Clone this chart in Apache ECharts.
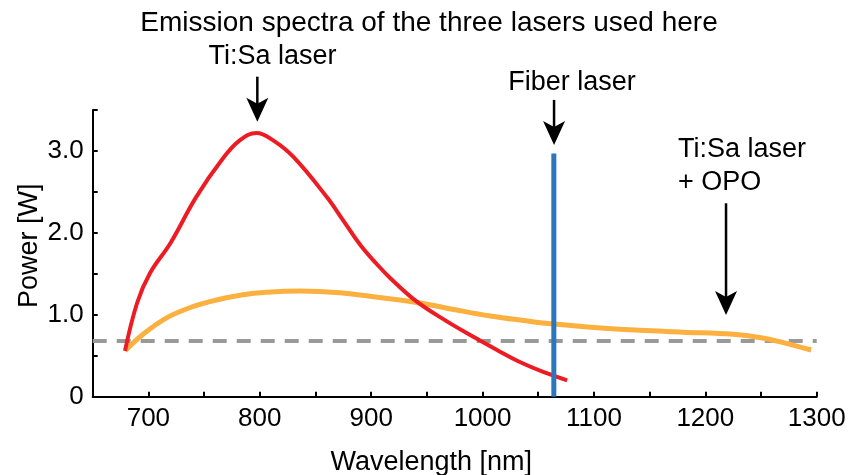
<!DOCTYPE html>
<html><head><meta charset="utf-8">
<script src="https://cdn.jsdelivr.net/npm/echarts@6/dist/echarts.min.js"></script>
<style>html,body{margin:0;padding:0;background:#fff}#c{width:851px;height:475px}</style>
</head><body><div id="c"></div>
<script>
// ---- data ----
const titleText = 'Emission spectra of the three lasers used here';
const xName = 'Wavelength [nm]';
const yName = 'Power [W]';
const xMin = 650, xMax = 1300, xStep = 50;
const yMin = 0, yMax = 3.5, yStep = 0.5;
const yTickLabels = {0: '0', 1: '1.0', 2: '2.0', 3: '3.0'};

const tisaWavelength = [679, 690, 701.5, 720, 743, 767, 782, 797, 812, 830, 860, 875, 891, 905, 917, 941, 968, 992, 1013, 1034, 1055, 1076];
const tisaPower      = [0.56, 1.15, 1.51, 1.88, 2.44, 2.91, 3.13, 3.22, 3.13, 2.93, 2.44, 2.15, 1.84, 1.62, 1.45, 1.16, 0.92, 0.73, 0.57, 0.42, 0.30, 0.20];

const opoWavelength = [679, 695, 716, 740, 761, 785, 806, 836, 872, 902, 941, 974, 1007, 1037, 1064, 1103, 1141, 1180, 1225, 1250, 1270, 1295];
const opoPower      = [0.56, 0.76, 0.96, 1.10, 1.18, 1.245, 1.275, 1.29, 1.27, 1.22, 1.15, 1.065, 0.985, 0.93, 0.887, 0.843, 0.81, 0.788, 0.762, 0.72, 0.66, 0.57];

const fiberWavelength = 1064;
const fiberPower = 2.97;

const thresholdPower = 0.68;

// annotations: label, label anchor (data coords), arrow x, arrow top y, arrow tip y
const annotations = [
  {text: 'Ti:Sa laser', tx: 811.4, ty: 4.15, align: 'center', ax: 797.8, ay0: 3.907, ay1: 3.358},
  {text: 'Fiber laser', tx: 1080.3, ty: 3.83, align: 'center', ax: 1064.2, ay0: 3.623, ay1: 3.073},
  {text: 'Ti:Sa laser\n+ OPO', tx: 1175.5, ty: 2.81, align: 'left', ax: 1218.6, ay0: 2.361, ay1: 0.998}
];

const FONT = 'Liberation Sans, Arial, sans-serif';
const zip = (a, b) => a.map((v, i) => [v, b[i]]);

const chart = echarts.init(document.getElementById('c'), null, {renderer: 'canvas'});
const option = {
  animation: false,
  backgroundColor: '#fff',
  title: {
    text: titleText, left: 429, top: 9, padding: 0, textAlign: 'center',
    textStyle: {fontFamily: FONT, fontSize: 28, fontWeight: 'normal', color: '#000'}
  },
  grid: {left: 92.7, right: 34.3, top: 110, bottom: 78.3, containLabel: false, outerBoundsMode: 'none'},
  xAxis: {
    type: 'value', min: xMin, max: xMax, interval: xStep,
    name: xName, nameLocation: 'middle', nameGap: 52,
    nameTextStyle: {fontFamily: FONT, fontSize: 27, color: '#000', padding: [0, 47, 0, 0]},
    axisLine: {show: true, onZero: false, lineStyle: {color: '#000', width: 2}},
    axisTick: {show: true, inside: true, length: 5, lineStyle: {color: '#000', width: 2}},
    axisLabel: {fontFamily: FONT, fontSize: 26, color: '#000', margin: 9,
      formatter: v => (v % 100 === 0 ? String(v) : '')},
    splitLine: {show: false}
  },
  yAxis: {
    type: 'value', min: yMin, max: yMax, interval: yStep,
    name: yName, nameLocation: 'middle', nameGap: 50, nameRotate: 90, nameMoveOverlap: false,
    nameTextStyle: {fontFamily: FONT, fontSize: 27, color: '#000', padding: [0, 0, 0, 15]},
    axisLine: {show: true, onZero: false, lineStyle: {color: '#000', width: 2}},
    axisTick: {show: true, inside: true, length: 5, lineStyle: {color: '#000', width: 2}},
    axisLabel: {fontFamily: FONT, fontSize: 26, color: '#000', margin: 9,
      formatter: v => (Math.abs(v - Math.round(v)) < 1e-6 && yTickLabels[Math.round(v)] !== undefined ? yTickLabels[Math.round(v)] : '')},
    splitLine: {show: false}
  },
  series: [
    {type: 'line', name: 'threshold', data: [[xMin, thresholdPower], [xMax, thresholdPower]],
     symbol: 'none', lineStyle: {color: '#999999', width: 4, type: [14, 10]}, z: 1, silent: true},
    {type: 'line', name: 'Ti:Sa + OPO', data: zip(opoWavelength, opoPower), smooth: 0.4,
     symbol: 'none', lineStyle: {color: '#fbb040', width: 5}, z: 2},
    {type: 'line', name: 'Ti:Sa', data: zip(tisaWavelength, tisaPower), smooth: 0.4,
     symbol: 'none', lineStyle: {color: '#ed1c24', width: 4}, z: 3},
    {type: 'line', name: 'Fiber', data: [[fiberWavelength, 0], [fiberWavelength, fiberPower]],
     symbol: 'none', lineStyle: {color: '#2a78bc', width: 5}, z: 4}
  ]
};
chart.setOption(option);

function toPx(x, y) { return chart.convertToPixel({gridIndex: 0}, [x, y]); }
const elements = [];
annotations.forEach(a => {
  const t = toPx(a.tx, a.ty);
  elements.push({type: 'text', x: t[0], y: t[1],
    style: {text: a.text, fontFamily: FONT, fontSize: 27, fill: '#000',
      align: a.align, verticalAlign: 'middle', lineHeight: 33}});
  const p0 = toPx(a.ax, a.ay0), p1 = toPx(a.ax, a.ay1);
  elements.push({type: 'line', shape: {x1: p0[0], y1: p0[1], x2: p1[0], y2: p1[1] - 15},
    style: {stroke: '#000', lineWidth: 2.5}});
  const hx = p1[0], hy = p1[1];
  elements.push({type: 'polygon', shape: {points: [[hx, hy], [hx - 11, hy - 24], [hx, hy - 18], [hx + 11, hy - 24]]},
    style: {fill: '#000'}});
});
chart.setOption({graphic: elements});
</script>
</body></html>
